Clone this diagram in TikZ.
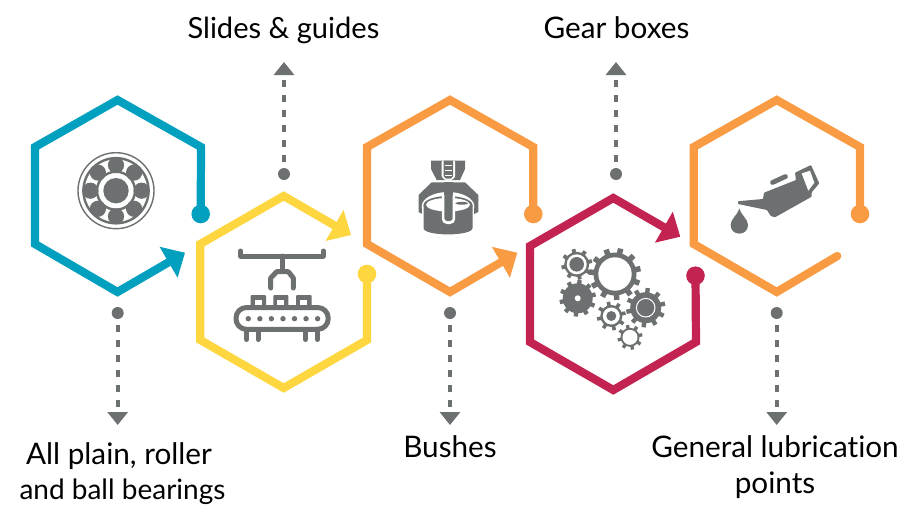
\documentclass[tikz,border=0pt]{standalone}
\usepackage{fontspec}
\setmainfont[Ligatures=NoCommon]{Lato}
\usetikzlibrary{arrows.meta}
\definecolor{cteal}{HTML}{00A0BE}
\definecolor{cyellow}{HTML}{FDD640}
\definecolor{corange}{HTML}{F99B43}
\definecolor{ccrim}{HTML}{C32351}
\definecolor{igray}{HTML}{6D7071}
\tikzset{
 ring/.style={draw=#1,line width=8.2pt,line join=miter,miter limit=10,-{Triangle[length=19pt,width=34.6pt,fill=#1]}},
 openring/.style={draw=#1,line width=8.2pt,line join=miter,miter limit=10,line cap=round},
 enddot/.style={circle,fill=#1,inner sep=0pt,minimum size=18.6pt},
 graydot/.style={circle,fill=igray,inner sep=0pt,minimum size=12pt},
 leader/.style={draw=igray,line width=3.6pt,dash pattern=on 7pt off 8pt,dash phase=9pt,-{Triangle[length=13pt,width=20pt,fill=igray]}},
 lab/.style={font=\fontsize{29.7}{35}\selectfont,text=black,inner sep=0pt,anchor=base},
 labs/.style={font=\fontsize{28}{35}\selectfont,text=black,inner sep=0pt,anchor=base},
 labm/.style={font=\fontsize{29.1}{35}\selectfont,text=black,inner sep=0pt,anchor=base},
 icl/.style={draw=igray,line width=#1,line cap=round,line join=round},
 icl/.default=5pt
}
% gear: x y body-radius tip-radius teeth
\newcommand{\mygear}[5]{%
 \fill[igray] (#1,#2) circle[radius=#3];
 \foreach \a in {1,...,#5}{
  \fill[igray,shift={(#1,#2)},rotate=\a*360/#5+12] (#3-1,-#3*0.09-0.8) rectangle (#4,#3*0.09+0.8);
 }}
\begin{document}
\begin{tikzpicture}[x=1pt,y=-1pt]
\useasboundingbox (0,0) rectangle (900,504);
\fill[white] (0,0) rectangle (900,504);

% end dots and arrow tips
\node[enddot=cteal] (d1) at (200.7,214) {};
\node[enddot=cyellow] (d2) at (367,274) {};
\node[enddot=corange] (d3) at (533.3,214) {};
\node[enddot=ccrim] (d4) at (695.5,275.7) {};
\node[enddot=corange] (d5) at (860,214) {};
\coordinate (t1) at (185,252.7);
\coordinate (t2) at (351,235);
\coordinate (t3) at (517.3,252.7);
\coordinate (t4) at (680.3,236.7);
\coordinate (t5) at (837.3,256);

% hexagons
\draw[ring=cteal] (d1.center) -- (201,147) -- (117.5,100) -- (35,147) -- (35,244) -- (117.5,292) -- (t1);
\draw[ring=cyellow] (d2.center) -- (367,340) -- (283.7,388) -- (200.3,340) -- (200.3,244) -- (283.7,196) -- (t2);
\draw[ring=corange] (d3.center) -- (533.3,147) -- (450,100) -- (367,147) -- (367,244) -- (450,292) -- (t3);
\draw[ring=ccrim] (d4.center) -- (696,342) -- (613.3,390) -- (530,342) -- (530,246) -- (613.3,198) -- (t4);
\draw[openring=corange] (d5.center) -- (860,147) -- (776.7,100) -- (693.7,147) -- (693.7,244) -- (776.7,292) -- (t5);

% grey leaders
\node[graydot] (g1) at (117.7,313) {};
\node[graydot] (g2) at (284,174) {};
\node[graydot] (g3) at (450,313) {};
\node[graydot] (g4) at (616,174) {};
\node[graydot] (g5) at (776.7,313) {};
\coordinate (e1) at (117.7,425);
\coordinate (e2) at (284,62);
\coordinate (e3) at (450,425);
\coordinate (e4) at (616,62);
\coordinate (e5) at (776.7,425);
\foreach \a/\b in {g1/e1,g2/e2,g3/e3,g4/e4,g5/e5}{\draw[leader] (\a) -- (\b);}

% labels
\node[lab] (l1a) at (119,464) {All plain, roller};
\node[labs] (l1b) at (122.5,499) {and ball bearings};
\node[labm] (l2) at (283.5,38) {Slides \& guides};
\node[lab] (l3) at (450,457) {Bushes};
\node[lab] (l4) at (616.5,38) {Gear boxes};
\node[lab] (l5a) at (775,457) {General lubrication};
\node[lab] (l5b) at (775,493) {points};

% bearing icon
\begin{scope}[shift={(116,190.7)}]
 \draw[igray,line width=1.4pt] (0,0) circle[radius=38];
 \draw[igray,line width=2.4pt] (0,0) circle[radius=32.6];
 \draw[igray,line width=2.4pt] (0,0) circle[radius=19];
 \foreach \a in {0,45,...,315}{
  \fill[igray] (\a:25.6) circle[radius=8.1];
  \fill[igray,rotate=\a] (19,-3.5) rectangle (32,3.5);
 }
 \fill[igray] (0,0) circle[radius=12.7];
\end{scope}

% conveyor icon
\draw[icl] (240.7,251) -- (240.7,256) -- (323.3,256) -- (323.3,251);
\draw[icl] (282.3,256) -- (282.3,271);
\draw[icl] (270.7,288) -- (270.7,278) -- (276.7,271.7) -- (288.3,271.7) -- (293.3,278) -- (293.3,288);
\foreach \xa/\xb in {250.5/266,273.3/288.3,296/311.7}{
 \fill[igray,rounded corners=1pt] (\xa,295) rectangle (\xb,307);
 \fill[white] ({(\xa+\xb)/2-3.4},300) rectangle ({(\xa+\xb)/2+3.4},305.2);
}
\draw[igray,line width=5pt,rounded corners=10.5pt] (236,307.5) rectangle (328.2,329.3);
\foreach \i in {0,...,6}{\fill[igray] (248.3+\i*11.55,318.7) circle[radius=2.7];}
\foreach \x in {246.7,258,305.3,317.3}{\draw[icl] (\x,331) -- (\x,339.5);}

% mixer icon
\fill[igray] (431,160.7) -- (465,160.7) -- (465,169) -- (460,180) -- (436.7,180) -- (431,169) -- cycle;
\fill[igray] (431.7,182.3) -- (465,182.3) -- (478.3,195) -- (478.3,212) -- (474,214) -- (422.5,214) -- (418.5,212) -- (418.5,195) -- cycle;
\fill[white] (448,206.5) ellipse[x radius=26.3,y radius=14.5];
\fill[white] (421.7,206) rectangle (474.3,216);
\fill[igray] (423.5,205) -- (423.5,228) .. controls (423.5,236.5) and (472.5,236.5) .. (472.5,228) -- (472.5,205) -- cycle;
\fill[igray] (448,205) ellipse[x radius=24.5,y radius=9];
\fill[white] (448,204.7) ellipse[x radius=22,y radius=6.8];
\fill[igray] (461.7,203.3) ellipse[x radius=6.5,y radius=1.4];
\fill[white,rounded corners=5pt] (441.8,192) rectangle (455.2,224);
\fill[igray,rounded corners=3pt] (444.3,190) rectangle (452.7,221);
\fill[igray] (444.3,182) rectangle (452.7,195);
\fill[white,rounded corners=1pt] (441.7,160.7) -- (455,160.7) -- (455,177) -- (452,180) -- (445,180) -- (441.7,177) -- cycle;
\fill[igray] (443.5,160.7) -- (453.2,160.7) -- (453.2,176) -- (451,178.5) -- (446,178.5) -- (443.5,176) -- cycle;
\draw[white,line width=.9pt] (445,165) -- (452,165) (445,170) -- (452,170) (445,175) -- (452,175);

% gear icons
\mygear{576.7}{264.3}{12.5}{15.5}{8}
\fill[white] (576.7,264.3) circle[radius=10];
\fill[igray] (576.7,264.3) circle[radius=7.3];
\mygear{615}{274}{21.5}{26}{11}
\fill[white] (615,274) circle[radius=16.7];
\mygear{577.7}{298.3}{15}{18.3}{10}
\fill[white] (577.7,298.3) circle[radius=3];
\mygear{645.7}{307.7}{15.5}{19.7}{10}
\draw[white,line width=1pt] (645.7,307.7) circle[radius=9.3];
\mygear{611.3}{316}{11}{14.5}{8}
\fill[white] (611.3,316) circle[radius=8.5];
\fill[igray] (611.3,316) circle[radius=5];
\mygear{630}{337.3}{9.5}{12.5}{8}
\fill[white] (630,337.3) circle[radius=7.5];

% oil can icon
\fill[igray,rounded corners=.8pt] (738,201.2) -- (763,199) -- (764,192.7) -- (796,180) -- (795,172.7) -- (811,165) -- (819.3,183.3) -- (811.7,192.3) -- (811.7,196.7) -- (775,217.3) -- (770.7,216) -- (767,210) -- (738,204) -- cycle;
\fill[white] (801.7,173.5) -- (810,170.7) -- (814.3,182.7) -- (808.3,190.7) -- cycle;
\draw[icl=4.8pt] (772.5,182.5) -- (785.5,176.5);
\fill[igray] (739.3,208.3) .. controls (737,216) and (730.6,219) .. (730.6,225) .. controls (730.6,236.5) and (748,236.5) .. (748,225) .. controls (748,219) and (741.6,216) .. (739.3,208.3) -- cycle;
\end{tikzpicture}
\end{document}
